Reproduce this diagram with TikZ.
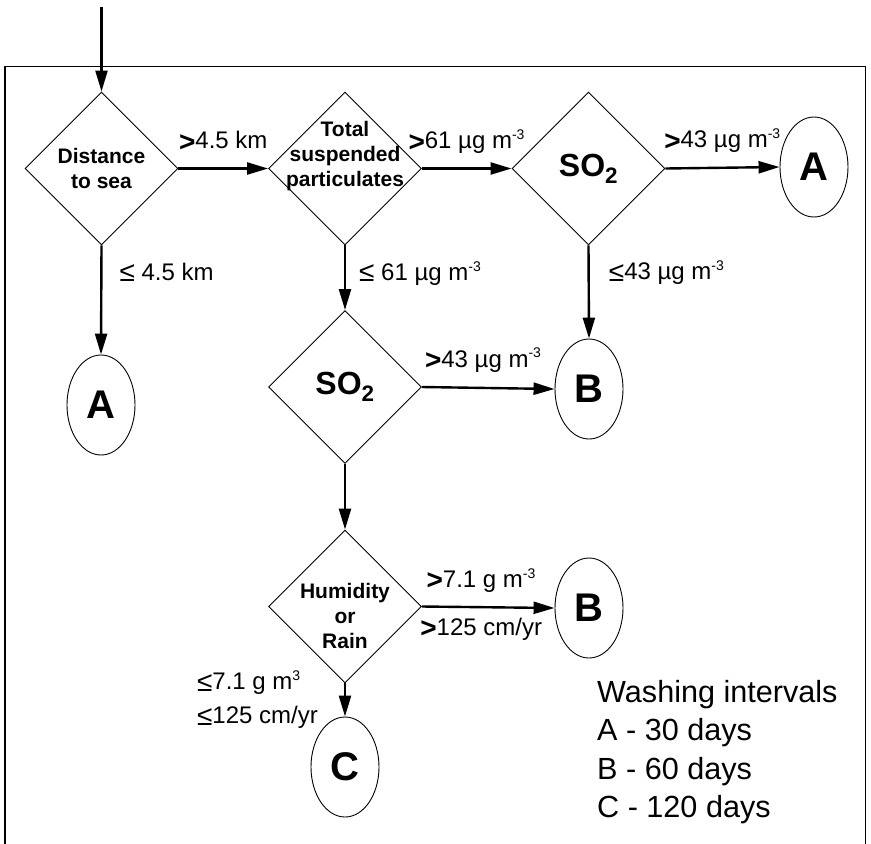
\documentclass[tikz,border=0pt]{standalone}
\usepackage{fontspec}
\setmainfont{Liberation Sans}
\usetikzlibrary{arrows.meta, shapes.geometric}
\newcommand{\gtsym}{\raisebox{-2.5pt}{\fontsize{28}{28}\selectfont\bfseries >}}
\newcommand{\lesym}{\raisebox{-1.5pt}{\fontsize{28}{28}\selectfont ≤}}
\newcommand{\pw}[1]{\textsuperscript{\fontsize{14}{14}\selectfont #1}}

\begin{document}
\begin{tikzpicture}[x=1pt, y=-1pt,
  dia/.style={draw, diamond, minimum width=153pt, minimum height=153pt, inner sep=0pt, line width=0.9pt},
  dtext/.style={align=center, font=\fontsize{21}{25}\selectfont\bfseries},
  sotext/.style={font=\fontsize{32}{32}\selectfont\bfseries},
  ell/.style={draw, ellipse, minimum width=68pt, minimum height=100pt, inner sep=0pt, line width=0.9pt, font=\fontsize{40}{40}\selectfont\bfseries},
  lab/.style={font=\fontsize{24}{34}\selectfont, inner sep=2pt},
  legend/.style={align=left, inner sep=0pt, font=\fontsize{30.6}{38.5}\selectfont},
  arr/.style={-{Triangle[length=21pt, width=12pt]}, line width=2.4pt}]
  \useasboundingbox (0,0) rectangle (871,844);
  % open frame
  \draw[line width=1.1pt] (5,844) -- (5,66.5) -- (865.5,66.5) -- (865.5,844);
  % decisions
  \node[dia, label={[dtext]center:Distance\\to sea}] (dist) at (101.5,168.5) {};
  \node[dia, label={[dtext, yshift=12pt]center:Total\\suspended\\particulates}] (tsp) at (345,168.5) {};
  \node[dia, sotext] (so2a) at (588.5,168.5) {SO\textsubscript{2}};
  \node[dia, sotext] (so2b) at (345,387) {SO\textsubscript{2}};
  \node[dia, label={[dtext, yshift=-9pt]center:Humidity\\or\\Rain}] (hum) at (345,606.5) {};
  % washing classes
  \node[ell] (endA1) at (814,167) {A};
  \node[ell] (endA2) at (101,405) {A};
  \node[ell] (endB1) at (589,389) {B};
  \node[ell] (endB3) at (589,608) {B};
  \node[ell] (endC)  at (345,767) {C};
  \coordinate (entry) at (101.5,7);
  \draw[arr] (entry) -- (dist.north);
  \draw[arr] (dist.east) -- node[lab, anchor=base, yshift=20pt] {\gtsym 4.5 km} (tsp.west);
  \draw[arr] (dist.south) -- node[lab, pos=0.32, anchor=base west, xshift=15pt] {\lesym\ 4.5 km} (endA2.north);
  \draw[arr] (tsp.east) -- node[lab, anchor=base, yshift=20pt] {\gtsym 61 µg m\pw{-3}} (so2a.west);
  \draw[arr] (tsp.south) -- node[lab, pos=0.54, anchor=base west, xshift=11pt] {\lesym\ 61 µg m\pw{-3}} (so2b.north);
  \draw[arr] (so2a.east) -- node[lab, anchor=base, yshift=20pt] {\gtsym 43 µg m\pw{-3}} (endA1.west);
  \draw[arr] (so2a.south) -- node[lab, pos=0.37, anchor=base west, xshift=17pt] {\lesym 43 µg m\pw{-3}} (endB1.north);
  \draw[arr] (so2b.east) -- node[lab, anchor=base, yshift=21pt, xshift=-5pt] {\gtsym 43 µg m\pw{-3}} (endB1.west);
  \draw[arr] (so2b.south) -- (hum.north);
  \draw[arr] (hum.east) -- node[lab, anchor=base, yshift=20pt, xshift=-7pt] {\gtsym 7.1 g m\pw{-3}}
    node[lab, anchor=base, yshift=-28pt, xshift=-7pt] {\gtsym 125 cm/yr} (endB3.west);
  \draw[arr] (hum.south) -- node[lab, left=24pt, align=left] {\lesym 7.1 g m\pw{3}\\\lesym 125 cm/yr} (endC.north);
  \node[legend, anchor=north west] (wash) at (597,680) {Washing intervals\\A - 30 days\\B - 60 days\\C - 120 days};
\end{tikzpicture}
\end{document}
